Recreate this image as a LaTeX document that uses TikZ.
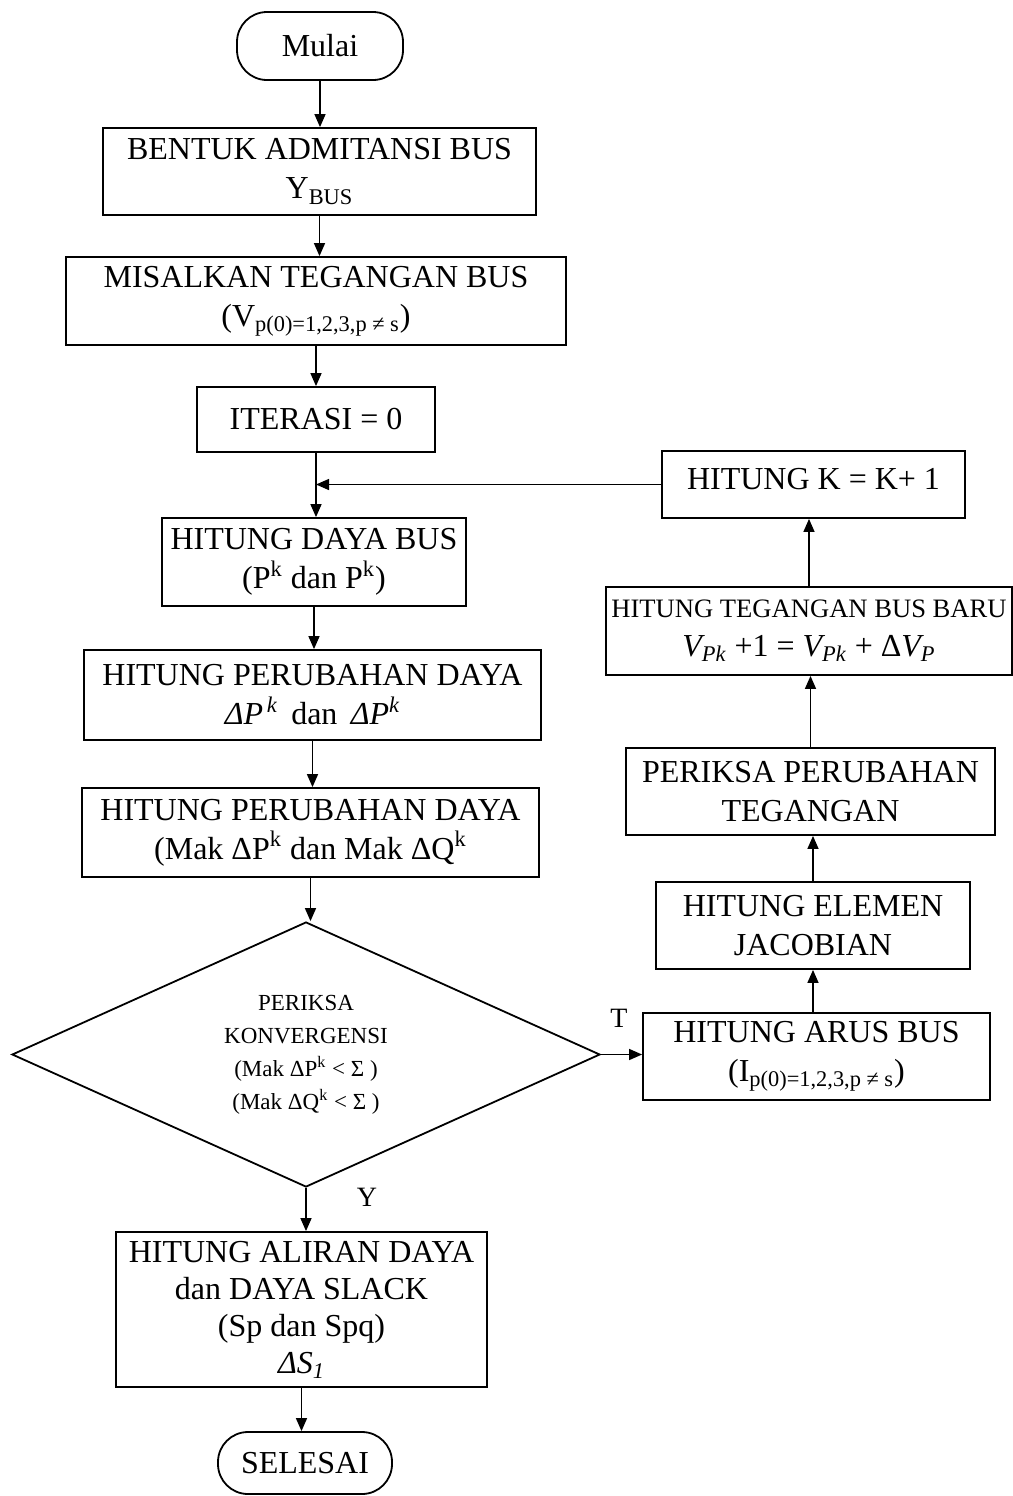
\documentclass[tikz,border=0pt]{standalone}
\usepackage{fontspec}
\setmainfont{Liberation Serif}
\usetikzlibrary{shapes.geometric,arrows.meta}
\begin{document}
\begin{tikzpicture}[x=0.5pt,y=-0.5pt,
  box/.style={draw, line width=0.9pt, align=center, inner sep=0pt, font=\fontsize{16}{19.5}\selectfont},
  term/.style={box, rounded corners=15pt},
  arr/.style={line width=0.7pt, -{Triangle[length=6.5pt,width=5.5pt]}},
  lbl/.style={font=\fontsize{14}{16}\selectfont, inner sep=0pt}
]
\useasboundingbox (0,0) rectangle (1013,1496);
% main column
\node[term, minimum width=83pt, minimum height=34pt] (start) at (320,46) {Mulai};
\node[box, minimum width=216.5pt, minimum height=43.5pt] (b1) at (319.5,171.5) {BENTUK ADMITANSI BUS\\Y\textsubscript{BUS}};
\node[box, minimum width=250pt, minimum height=44pt] (b2) at (316,301) {MISALKAN TEGANGAN BUS\\(V\textsubscript{p(0)=1,2,3,p ≠ s})};
\node[box, minimum width=119pt, minimum height=32.5pt] (b3) at (316,419.5) {ITERASI = 0};
\node[box, minimum width=152pt, minimum height=44pt] (b4) at (314,562) {HITUNG DAYA BUS\\(P\textsuperscript{k} dan P\textsuperscript{k})};
\node[box, minimum width=228.5pt, minimum height=45pt] (b5) at (312.5,695) {HITUNG PERUBAHAN DAYA\\\textit{ΔP\textsuperscript{\,k}}\, dan \,\textit{ΔP\textsuperscript{k}}};
\node[box, minimum width=228.5pt, minimum height=44.5pt] (b6) at (310.5,832.5) {HITUNG PERUBAHAN DAYA\\(Mak ΔP\textsuperscript{k} dan Mak ΔQ\textsuperscript{k}};
\node[diamond, draw, line width=0.9pt, aspect=2.2, minimum width=294pt, minimum height=132.5pt, inner sep=0pt, align=center, font=\fontsize{11.5}{16.5}\selectfont] (dec) at (306,1054.5) {PERIKSA\\KONVERGENSI\\(Mak ΔP\textsuperscript{k} < Σ )\\(Mak ΔQ\textsuperscript{k} < Σ )};
\node[box, minimum width=185.5pt, minimum height=77.5pt, font=\fontsize{16}{18.5}\selectfont] (b7) at (301.5,1309.5) {HITUNG ALIRAN DAYA\\dan DAYA SLACK\\(Sp dan Spq)\\\textit{ΔS\textsubscript{1}}};
\node[term, minimum width=87pt, minimum height=31pt] (end) at (305,1463) {SELESAI};
% right column
\node[box, minimum width=151.5pt, minimum height=33.5pt] (rk) at (813.5,484.5) {\raisebox{6pt}{HITUNG K = K+ 1}};
\node[box, minimum width=203pt, minimum height=44pt] (rt) at (809,631) {{\fontsize{13.3}{16}\selectfont HITUNG TEGANGAN BUS BARU}\\\textit{V\textsubscript{Pk}} +1 = \textit{V\textsubscript{Pk}} + Δ\textit{V\textsubscript{P}}};
\node[box, minimum width=184.5pt, minimum height=43.5pt] (rp) at (810.5,791.5) {PERIKSA PERUBAHAN\\TEGANGAN};
\node[box, minimum width=157pt, minimum height=43.5pt] (re) at (813,925.5) {HITUNG ELEMEN\\JACOBIAN};
\node[box, minimum width=173.5pt, minimum height=43.5pt] (ra) at (816.5,1056.5) {HITUNG ARUS BUS\\(I\textsubscript{p(0)=1,2,3,p ≠ s})};
% labels
\node[lbl] (tlab) at (619,1018) {T};
\node[lbl] (ylab) at (367,1197) {Y};
% connectors main
\draw[arr] (start.south) -- (start.south |- b1.north);
\draw[arr] (b1.south) -- (b1.south |- b2.north);
\draw[arr] (b2.south) -- (b2.south |- b3.north);
\draw[arr] (b3.south) -- (b3.south |- b4.north);
\draw[arr] (b4.south) -- (b4.south |- b5.north);
\draw[arr] (b5.south) -- (b5.south |- b6.north);
\draw[arr] (b6.south) -- (b6.south |- dec.north);
\draw[arr] (dec.south) -- (dec.south |- b7.north);
\draw[arr] (b7.south) -- (b7.south |- end.north);
% loop
\draw[arr] (dec.east) -- (dec.east -| ra.west);
\draw[arr] (re.south |- ra.north) -- (re.south);
\draw[arr] (re.north) -- (re.north |- rp.south);
\draw[arr] (rp.north) -- (rp.north |- rt.south);
\draw[arr] (rt.north) -- (rt.north |- rk.south);
\draw[arr] (rk.west) -- (b3.south |- rk.west);
\end{tikzpicture}
\end{document}
